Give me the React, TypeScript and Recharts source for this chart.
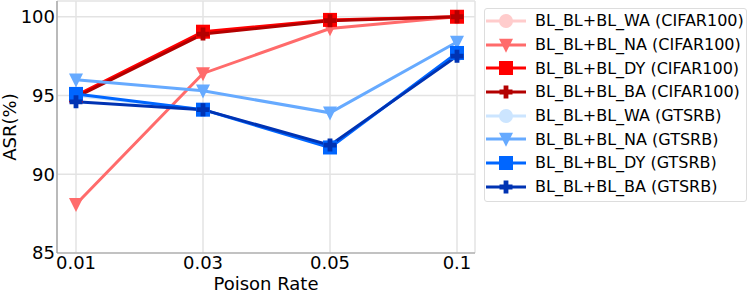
import React from "react";
import {
    LineChart,
    Line,
    XAxis,
    YAxis,
    CartesianGrid,
} from "recharts";

const rates = ["0.01", "0.03", "0.05", "0.1"];

const cifarWA = [95.0, 99.0, 99.8, 100];
const cifarNA = [88.1, 96.4, 99.25, 100];
const cifarDY = [95.0, 99.05, 99.8, 100];
const cifarBA = [94.9, 98.9, 99.75, 100];

const gtsrbWA = [95.0, 94.1, 91.8, 97.6];
const gtsrbNA = [96.0, 95.3, 93.9, 98.4];
const gtsrbDY = [95.1, 94.1, 91.7, 97.7];
const gtsrbBA = [94.6, 94.1, 91.85, 97.5];

const yTicks = [85, 90, 95, 100];

type Shape = "circle" | "triangle" | "square" | "plus";

const series: { key: string; name: string; color: string; shape: Shape; values: number[] }[] = [
    { key: "cWA", name: "BL_BL+BL_WA (CIFAR100)", color: "#ffcccc", shape: "circle", values: cifarWA },
    { key: "cNA", name: "BL_BL+BL_NA (CIFAR100)", color: "#ff6b6b", shape: "triangle", values: cifarNA },
    { key: "cDY", name: "BL_BL+BL_DY (CIFAR100)", color: "#ff0000", shape: "square", values: cifarDY },
    { key: "cBA", name: "BL_BL+BL_BA (CIFAR100)", color: "#b30000", shape: "plus", values: cifarBA },
    { key: "gWA", name: "BL_BL+BL_WA (GTSRB)", color: "#cce5ff", shape: "circle", values: gtsrbWA },
    { key: "gNA", name: "BL_BL+BL_NA (GTSRB)", color: "#66aaff", shape: "triangle", values: gtsrbNA },
    { key: "gDY", name: "BL_BL+BL_DY (GTSRB)", color: "#0066ff", shape: "square", values: gtsrbDY },
    { key: "gBA", name: "BL_BL+BL_BA (GTSRB)", color: "#0033b3", shape: "plus", values: gtsrbBA },
];

const data = rates.map((r, i) => {
    const row: Record<string, string | number> = { rate: r };
    series.forEach((s) => {
        row[s.key] = s.values[i];
    });
    return row;
});

const FONT = "'DejaVu Sans', sans-serif";

function Marker({ cx, cy, shape, color }: { cx: number; cy: number; shape: Shape; color: string }) {
    if (cx == null || cy == null) return null;
    if (shape === "circle") {
        return <circle cx={cx} cy={cy} r={7} fill={color} />;
    }
    if (shape === "triangle") {
        const s = 7;
        return (
            <path
                d={`M${cx - s},${cy - s * 0.9} L${cx + s},${cy - s * 0.9} L${cx},${cy + s * 1.1} Z`}
                fill={color}
            />
        );
    }
    if (shape === "square") {
        return <rect x={cx - 7} y={cy - 7} width={14} height={14} fill={color} />;
    }
    const a = 6.5;
    const b = 2.4;
    return (
        <path
            d={`M${cx - b},${cy - a} H${cx + b} V${cy - b} H${cx + a} V${cy + b} H${cx + b} V${cy + a} H${cx - b} V${cy + b} H${cx - a} V${cy - b} H${cx - b} Z`}
            fill={color}
        />
    );
}

function YLabel(props: any) {
    const vb = props.viewBox || {};
    const x = 9;
    const y = (vb.y || 0) + (vb.height || 0) / 2;
    return (
        <text
            x={x}
            y={y}
            transform={`rotate(-90, ${x}, ${y})`}
            textAnchor="middle"
            dominantBaseline="central"
            fontSize={18}
            fontFamily={FONT}
            fill="#000"
        >
            ASR(%)
        </text>
    );
}

function ChartLegend() {
    return (
        <div
            style={{
                position: "absolute",
                left: 484,
                top: 8,
                width: 261,
                height: 192,
                border: "1px solid #dddddd",
                borderRadius: 3,
                background: "#fff",
                fontFamily: FONT,
                fontSize: 16,
                color: "#000",
            }}
        >
            {series.map((s) => (
                <div
                    key={s.key}
                    style={{ height: 23.7, display: "flex", alignItems: "center", whiteSpace: "nowrap" }}
                >
                    <svg width={50} height={24} style={{ flex: "none" }}>
                        <line x1={1} y1={12} x2={41} y2={12} stroke={s.color} strokeWidth={3} />
                        <Marker cx={21} cy={12} shape={s.shape} color={s.color} />
                    </svg>
                    <span>{s.name}</span>
                </div>
            ))}
        </div>
    );
}

export default function App() {
    return (
        <div style={{ position: "absolute", left: 0, top: 0, width: 747, height: 293, background: "#fff" }}>
            <LineChart
                width={747}
                height={293}
                data={data}
                margin={{ top: 1, right: 272, left: 0, bottom: 0 }}
            >
                <CartesianGrid stroke="#e3e3e3" strokeWidth={1.5} />

                <XAxis
                    dataKey="rate"
                    height={40}
                    padding={{ left: 19, right: 18 }}
                    tickLine={false}
                    tickSize={0}
                    tickMargin={3}
                    axisLine={{ stroke: "#999", strokeWidth: 1.2 }}
                    tick={{ fontSize: 18, fill: "#000", fontFamily: FONT }}
                    label={{
                        value: "Poison Rate",
                        position: "insideBottom",
                        offset: 3,
                        fontSize: 18,
                        fill: "#000",
                        fontFamily: FONT,
                    }}
                />
                <XAxis
                    xAxisId="top"
                    dataKey="rate"
                    orientation="top"
                    height={0}
                    tick={false}
                    tickLine={false}
                    axisLine={{ stroke: "#999", strokeWidth: 1.2 }}
                />

                <YAxis
                    width={57}
                    domain={[85, 101]}
                    ticks={yTicks}
                    tickLine={false}
                    tickSize={0}
                    tickMargin={2}
                    allowDataOverflow
                    axisLine={{ stroke: "#999", strokeWidth: 1.2 }}
                    tick={{ fontSize: 18, fill: "#000", fontFamily: FONT }}
                    label={<YLabel />}
                />
                <YAxis
                    yAxisId="right"
                    orientation="right"
                    width={0}
                    domain={[85, 101]}
                    tick={false}
                    tickLine={false}
                    axisLine={{ stroke: "#999", strokeWidth: 1.2 }}
                />

                {series.map((s) => (
                    <Line
                        key={s.key}
                        type="linear"
                        dataKey={s.key}
                        name={s.name}
                        stroke={s.color}
                        strokeWidth={3}
                        isAnimationActive={false}
                        dot={(p: any) => (
                            <Marker
                                key={`${s.key}-${p.index}`}
                                cx={p.cx}
                                cy={p.cy}
                                shape={s.shape}
                                color={s.color}
                            />
                        )}
                        activeDot={false}
                    />
                ))}
            </LineChart>
            <ChartLegend />
        </div>
    );
}
